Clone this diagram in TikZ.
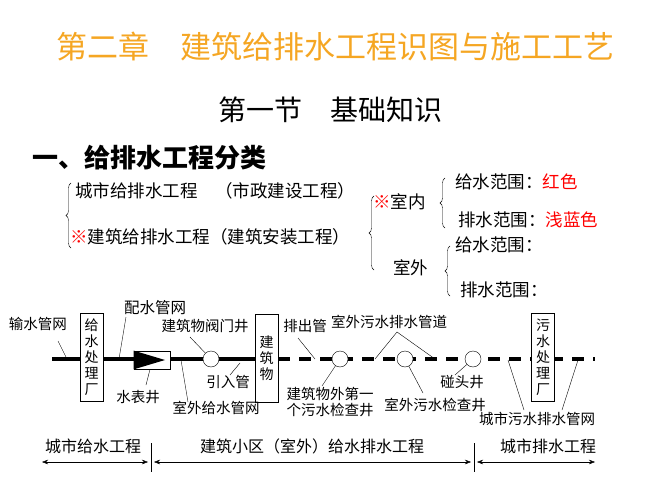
\documentclass[tikz,border=0pt]{standalone}
\usepackage{fontspec}
\setmainfont{Noto Sans CJK SC}
\usetikzlibrary{arrows.meta,decorations.pathreplacing}
\definecolor{ttl}{HTML}{F5A623}
\tikzset{
 lab/.style={font=\fontsize{14.5}{15.5}\selectfont,inner sep=0pt},
 cls/.style={font=\fontsize{17.5}{19}\selectfont,inner sep=0pt,anchor=west},
 box/.style={draw,thick,minimum width=23pt,minimum height=88pt,inner sep=1pt,align=center,font=\fontsize{14}{16}\selectfont},
 well/.style={circle,draw,fill=white,minimum size=16pt,inner sep=0pt},
 pipe/.style={line width=3.2pt},
 dpipe/.style={line width=3.2pt,dash pattern=on 12pt off 9pt},
 ld/.style={thin},
 brc/.style={decorate,decoration={brace,amplitude=5pt},thin},
 rng/.style={{Stealth[length=6pt]}-{Stealth[length=6pt]},thin},
}
\begin{document}
\begin{tikzpicture}[x=1pt,y=-1pt]
\useasboundingbox (0,0) rectangle (653,481);
\node[text=ttl,font=\fontsize{31}{33}\selectfont,inner sep=0pt] (t1) at (335,47) {第二章　建筑给排水工程识图与施工工艺};
\node[font=\fontsize{28}{30}\selectfont,inner sep=0pt] (t2) at (330,110) {第一节　基础知识};
\node[font=\bfseries\fontsize{26}{28}\selectfont,inner sep=0pt,anchor=west] (t3) at (32,158) {一、给排水工程分类};
% classification
\node[cls] (c1) at (75,191) {城市给排水工程　（市政建设工程）};
\node[cls] (c2) at (70,237) {\textcolor{red}{※}建筑给排水工程（建筑安装工程）};
\draw[brc] (71,248) -- (71,183);
\node[cls] (n1) at (373,202) {\textcolor{red}{※}室内};
\node[cls] (n2) at (393,268) {室外};
\draw[brc] (374,270) -- (374,196);
\node[cls] (g1) at (455,182) {给水范围：\textcolor{red}{红色}};
\node[cls] (p1) at (458,220) {排水范围：\textcolor{red}{浅蓝色}};
\draw[brc] (445,228) -- (445,178);
\node[cls] (g2) at (455,245) {给水范围：};
\node[cls] (p2) at (460,290) {排水范围：};
\draw[brc] (450,296) -- (450,246);
% pipeline
\coordinate (s0) at (52,359);
\coordinate (s1) at (278,359);
\coordinate (s2) at (595,359);
\draw[dpipe] (s1) -- (s2);
\draw[pipe] (s0) -- (s1);
\node[box,fill=white] (b1) at (91.5,357) {给\\水\\处\\理\\厂};
\node[box,fill=white] (b2) at (266.5,358) {建\\筑\\物};
\node[box,fill=white] (b3) at (543,357) {污\\水\\处\\理\\厂};
\node[draw,thick,fill=white,minimum width=36pt,minimum height=18pt,inner sep=0pt] (m) at (152,360) {};
\fill (m.north west) -- (165,360) -- (m.south west) -- cycle;
\node[well] (w1) at (211,359) {};
\node[well] (w2) at (340,359) {};
\node[well] (w3) at (405,359) {};
\node[well] (w4) at (473,359) {};
% labels
\node[lab] (l1) at (38,324) {输水管网};
\draw[ld] (58,341) -- (67,359);
\node[lab,font=\fontsize{15.5}{16}\selectfont] (l2) at (155,308) {配水管网};
\draw[ld] (126,317) -- (119,359);
\node[lab] (l3) at (205,326) {建筑物阀门井};
\draw[ld] (190,337) -- (w1);
\node[lab] (l4) at (138,397) {水表井};
\draw[ld] (m.south) ++(-2,0) -- (146,385);
\node[lab] (l5) at (216,408) {室外给水管网};
\draw[ld] (181,360) -- (188,402);
\node[lab] (l6) at (228,382) {引入管};
\draw[ld] (240,363) -- (230,375);
\node[lab] (l7) at (305,326) {排出管};
\draw[ld] (298,338) -- (315,359);
\node[lab] (l8) at (389,322) {室外污水排水管道};
\draw[ld] (397,332) -- (375,359);
\draw[ld] (397,332) -- (435,359);
\node[lab,align=center] (l9) at (330,402) {建筑物外第一\\个污水检查井};
\draw[ld] (w2) -- (322,386);
\node[lab] (l10) at (435,405) {室外污水检查井};
\draw[ld] (w3) -- (423,393);
\node[lab] (l11) at (462,382) {碰头井};
\draw[ld] (w4) -- (455,375);
\node[lab] (l12) at (537,419) {城市污水排水管网};
\draw[ld] (508,360) -- (524,410);
\draw[ld] (578,360) -- (562,410);
% ranges
\node[lab,font=\fontsize{16}{17}\selectfont] (r1) at (93,446) {城市给水工程};
\node[lab,font=\fontsize{16}{17}\selectfont] (r2) at (312,446) {建筑小区（室外）给水排水工程};
\node[lab,font=\fontsize{16}{17}\selectfont] (r3) at (548,446) {城市排水工程};
\coordinate (a0) at (42,462); \coordinate (a1) at (148,462);
\coordinate (a2) at (154,462); \coordinate (a3) at (471,462);
\coordinate (a4) at (477,462); \coordinate (a5) at (595,462);
\draw[rng] (a0) -- (a1);
\draw[rng] (a2) -- (a3);
\draw[rng] (a4) -- (a5);
\draw[thin] (151,443) -- (151,472);
\draw[thin] (474,443) -- (474,472);
\end{tikzpicture}
\end{document}
